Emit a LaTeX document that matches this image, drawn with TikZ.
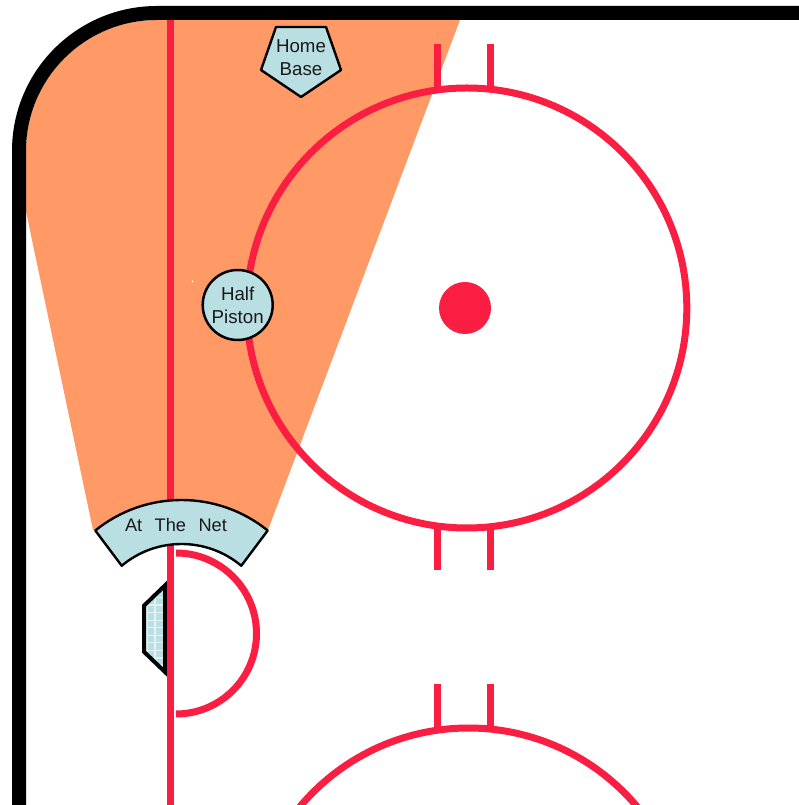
\documentclass[tikz,border=0pt]{standalone}
\usepackage{xcolor}
\usepackage{fontspec}
\setmainfont{Liberation Sans}
\usepackage{tikz}
\usetikzlibrary{positioning, calc}
\definecolor{zoneorange}{rgb}{1.0, 0.6, 0.4}
\definecolor{rinkred}{rgb}{0.98, 0.12, 0.26}
\definecolor{spotblue}{rgb}{0.73, 0.875, 0.89}
\definecolor{netgrid}{rgb}{0.9, 0.95, 0.96}
\tikzset{
  rinkline/.style={draw=rinkred, line width=7pt},
  spotshape/.style={fill=spotblue, draw=black, line width=2.4pt, line join=round},
  spotlabel/.style={font=\fontsize{18.7}{23}\selectfont, align=center, text=black!90, inner sep=0pt},
}

\begin{document}
\begin{tikzpicture}[x=1pt, y=1pt]
    \useasboundingbox (0,0) rectangle (799,805);
    \clip (0,0) rectangle (799,805);
    % zone
    \fill[zoneorange] (460,785) -- (268,275) -- (93,275) -- (32,565) -- (26,594) -- (26,654) arc[start angle=180, end angle=90, radius=131] -- cycle;
    % boards
    \draw[black, line width=14pt] (799,792) -- (157,792) arc[start angle=90, end angle=180, radius=138] -- (19,0);
    \fill[white] (192.5,523.5) circle (1pt);
    % faceoff circles
    \draw[rinkline] (466.8,497) circle (220);
    \draw[rinkline] (468.5,-143) circle (220);
    \fill[rinkred] (465,497) circle (26);
    \foreach \hx in {437.5, 490.4} {
      \draw[rinkline] (\hx,761) -- (\hx,715);
      \draw[rinkline] (\hx,280) -- (\hx,235);
      \draw[rinkline] (\hx,120.5) -- (\hx,75);
    }
    % net
    \fill[spotblue] (165,219.6) -- (144.2,199.5) -- (144.2,153) -- (165,133) -- cycle;
    \begin{scope}
      \clip (165,219.6) -- (144.2,199.5) -- (144.2,153) -- (165,133) -- cycle;
      \foreach \gx in {147, 155}
        \draw[netgrid, line width=1.3pt] (\gx,120) -- (\gx,230);
      \foreach \gy in {132, 140, 147, 154.7, 162.3, 169.7, 177.3, 184.7, 192.3, 200, 207.5, 215}
        \draw[netgrid, line width=1.3pt] (140,\gy) -- (170,\gy);
    \end{scope}
    \draw[black, line width=4pt] (165,219.6) -- (144.2,199.5) -- (144.2,153) -- (165,133) -- cycle;
    % goal line and crease
    \draw[rinkline] (170.5,785) -- (170.5,0);
    \draw[rinkline] (176,252) arc[start angle=90, end angle=-90, radius=80.5];
    % spots
    \draw[spotshape] (276,778) -- (326,778) -- (341,735) -- (301,708) -- (261,735) -- cycle;
    \node[spotlabel] (homebase) at (301,747) {Home\\Base};
    \node[spotlabel, circle, fill=spotblue, draw=black, line width=2.5pt, minimum size=70pt] (halfpiston) at (237.7,500) {Half\\Piston};
    \draw[spotshape] ([shift={(181.5,168)}]51:137) arc[start angle=51, end angle=129, radius=137] -- ([shift={(181.5,168)}]130:93) arc[start angle=130, end angle=50, radius=93] -- cycle;
    \node[spotlabel, font=\fontsize{18.2}{22}\selectfont] (atthenet) at (176,280) {At\hspace{12.5pt}The\hspace{12.5pt}Net};
  \end{tikzpicture}
\end{document}
